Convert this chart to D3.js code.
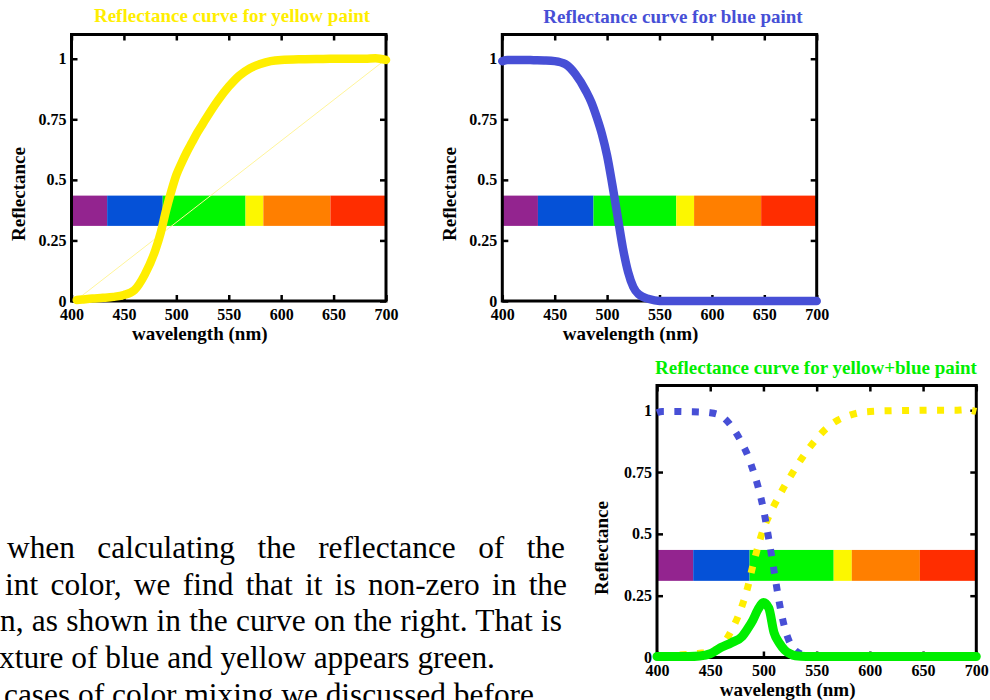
<!DOCTYPE html>
<html>
<head>
<meta charset="utf-8">
<script src="https://cdn.jsdelivr.net/npm/d3@7"></script>
<style>
  body { margin: 0; background: #fff; }
  svg { display: block; }
</style>
</head>
<body>
<script>
// wavelength samples (nm) shared by all curves
const wavelengths = [400, 405, 410, 420, 430, 440, 450, 460, 470, 480, 485, 490, 495, 500, 505, 510, 515, 520, 525, 530, 540, 550, 560, 570, 580, 590, 600, 620, 640, 660, 680, 690, 700];

const yellowRefl = [null, 0.004, 0.006, 0.01, 0.013, 0.017, 0.025, 0.045, 0.11, 0.21, 0.28, 0.37, 0.45, 0.52, 0.57, 0.615, 0.655, 0.695, 0.73, 0.765, 0.83, 0.885, 0.93, 0.96, 0.978, 0.99, 0.995, 0.998, 0.999, 1.0, 1.0, 1.002, 0.995];

const blueRefl = [0.99, 0.995, 0.995, 0.995, 0.994, 0.993, 0.99, 0.978, 0.935, 0.865, 0.82, 0.76, 0.69, 0.6, 0.48, 0.35, 0.22, 0.12, 0.058, 0.028, 0.008, 0.0, 0.0, 0.0, 0.0, 0.0, 0.0, 0.0, 0.0, 0.0, 0.0, 0.0, 0.0];

const mixRefl = [0.004, 0.004, 0.004, 0.004, 0.004, 0.006, 0.015, 0.04, 0.06, 0.085, 0.115, 0.15, 0.195, 0.222, 0.2, 0.1, 0.058, 0.03, 0.015, 0.007, 0.004, 0.004, 0.004, 0.004, 0.004, 0.004, 0.004, 0.004, 0.004, 0.004, 0.004, 0.004, 0.004];

// faint straight reference line on the yellow plot
const diagWl = [405, 700];
const diagRefl = [0.005, 0.998];

// spectrum strip
const bandEdges = [400, 434, 487, 566, 583, 647, 700];
const bandColors = ["#93248f", "#0551d7", "#00f700", "#fcf700", "#ff7f00", "#ff2d00"];
const bandRange = [0.31, 0.435];

const xTicks = [400, 450, 500, 550, 600, 650, 700];
const yTicks = [0, 0.25, 0.5, 0.75, 1];
const yTickLabels = ["0", "0.25", "0.5", "0.75", "1"];

const titles = ["Reflectance curve for yellow paint", "Reflectance curve for blue paint", "Reflectance curve for yellow+blue paint"];
const xLabel = "wavelength (nm)";
const yLabel = "Reflectance";

const textLines = [
  "when calculating the reflectance of the",
  "int color, we find that it is non-zero in the",
  "n, as shown in the curve on the right. That is",
  "xture of blue and yellow appears green.",
  "cases of color mixing we discussed before"
];

const yellow = "#ffee00";
const blue = "#474fd6";
const green = "#00ee00";
const serif = "'Liberation Serif', 'Times New Roman', serif";

const svg = d3.select("body").append("svg").attr("width", 990).attr("height", 700);

const panels = [
  { left: 71.5, right: 386, top: 34.5, bottom: 301, title: titles[0], titleColor: yellow, titleX: 232, titleY: 22, ylabX: 25, ylabY: 194 },
  { left: 502.3, right: 816.7, top: 34.5, bottom: 301, title: titles[1], titleColor: blue, titleX: 673, titleY: 23, ylabX: 456, ylabY: 194 },
  { left: 657, right: 976.3, top: 385.5, bottom: 657.5, title: titles[2], titleColor: green, titleX: 816, titleY: 374, ylabX: 608, ylabY: 548 }
];

function drawPanel(p, series) {
  const x = d3.scaleLinear().domain([400, 700]).range([p.left, p.right]);
  const y = d3.scaleLinear().domain([0, 1.1]).range([p.bottom, p.top]);
  const g = svg.append("g");

  g.selectAll("rect.band")
    .data(bandColors)
    .enter()
    .append("rect")
    .attr("class", "band")
    .attr("x", (d, i) => x(bandEdges[i]))
    .attr("width", (d, i) => x(bandEdges[i + 1]) - x(bandEdges[i]))
    .attr("y", y(bandRange[1]))
    .attr("height", y(bandRange[0]) - y(bandRange[1]))
    .attr("fill", (d) => d);

  const axes = [
    [d3.axisBottom(x).tickValues(xTicks).tickSize(-6).tickPadding(7.5), `translate(0,${p.bottom})`],
    [d3.axisTop(x).tickValues(xTicks).tickSize(-6).tickFormat(""), `translate(0,${p.top})`],
    [d3.axisLeft(y).tickValues(yTicks).tickFormat((d, i) => yTickLabels[i]).tickSize(-6).tickPadding(5), `translate(${p.left},0)`],
    [d3.axisRight(y).tickValues(yTicks).tickSize(-6).tickFormat(""), `translate(${p.right},0)`]
  ];
  axes.forEach(([ax, tr]) => {
    const a = g.append("g").attr("transform", tr).call(ax);
    a.select(".domain").remove();
    a.selectAll("line").attr("stroke", "#000").attr("stroke-width", 2.5);
    a.selectAll("text")
      .attr("font-family", serif)
      .attr("font-weight", "bold")
      .attr("font-size", 16)
      .attr("fill", "#000");
  });

  g.append("rect")
    .attr("x", p.left)
    .attr("y", p.top)
    .attr("width", p.right - p.left)
    .attr("height", p.bottom - p.top)
    .attr("fill", "none")
    .attr("stroke", "#000")
    .attr("stroke-width", 3);

  const line = d3
    .line()
    .defined((d) => d[1] != null)
    .x((d) => x(d[0]))
    .y((d) => y(d[1]))
    .curve(d3.curveMonotoneX);

  series.forEach((s) => {
    g.append("path")
      .datum(s.wl.map((w, i) => [w, s.values[i]]))
      .attr("d", line)
      .attr("fill", "none")
      .attr("stroke", s.color)
      .attr("stroke-width", s.width)
      .attr("stroke-linecap", s.dash ? "butt" : "round")
      .attr("stroke-linejoin", "round")
      .attr("stroke-dasharray", s.dash || null);
  });

  g.append("text")
    .attr("x", p.titleX)
    .attr("y", p.titleY)
    .attr("text-anchor", "middle")
    .attr("font-family", serif)
    .attr("font-weight", "bold")
    .attr("font-size", 19)
    .attr("fill", p.titleColor)
    .text(p.title);

  g.append("text")
    .attr("x", (p.left + p.right) / 2 - 29)
    .attr("y", p.bottom + 38.5)
    .attr("text-anchor", "middle")
    .attr("font-family", serif)
    .attr("font-weight", "bold")
    .attr("font-size", 19)
    .text(xLabel);

  g.append("text")
    .attr("transform", `translate(${p.ylabX},${p.ylabY}) rotate(-90)`)
    .attr("text-anchor", "middle")
    .attr("font-family", serif)
    .attr("font-weight", "bold")
    .attr("font-size", 19)
    .text(yLabel);
}

drawPanel(panels[0], [
  { wl: diagWl, values: diagRefl, color: "#fff59a", width: 1 },
  { wl: wavelengths, values: yellowRefl, color: yellow, width: 8.5 }
]);
drawPanel(panels[1], [
  { wl: wavelengths, values: blueRefl, color: blue, width: 8.5 }
]);
drawPanel(panels[2], [
  { wl: wavelengths, values: yellowRefl, color: yellow, width: 7, dash: "7,10.5" },
  { wl: wavelengths, values: blueRefl, color: blue, width: 7, dash: "7,10.5" },
  { wl: wavelengths, values: mixRefl, color: green, width: 9 }
]);

// paragraph text, partly cut off at the left edge
const lineLayout = [
  { x: 7, y: 558, end: 565 },
  { x: 5, y: 594.7, end: 567 },
  { x: 0, y: 631.3, end: 562 },
  { x: -1, y: 668 },
  { x: 4, y: 704.7 }
];

textLines.forEach((t, i) => {
  const L = lineLayout[i];
  const txt = svg
    .append("text")
    .attr("x", L.x)
    .attr("y", L.y)
    .attr("font-family", serif)
    .attr("font-size", 31.4)
    .attr("fill", "#000")
    .text(t);
  if (L.end) {
    const natural = txt.node().getComputedTextLength();
    const spaces = t.split(" ").length - 1;
    txt.style("word-spacing", (L.end - L.x - natural) / spaces + "px");
  }
});
</script>
</body>
</html>
